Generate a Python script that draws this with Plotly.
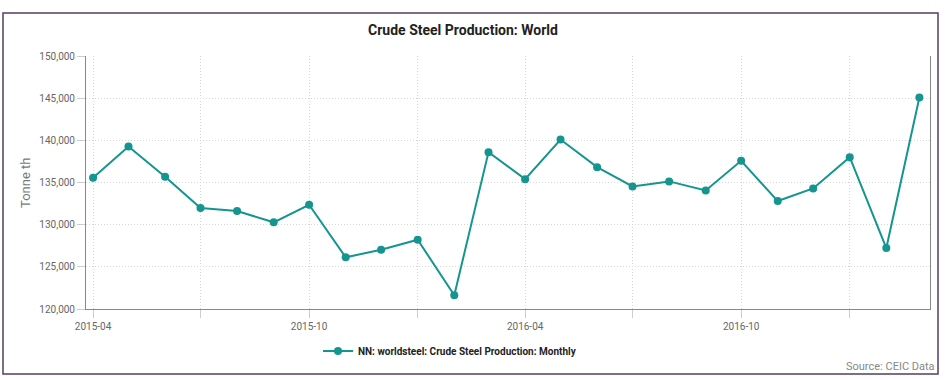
import plotly.graph_objects as go

months = ["2015-04", "2015-05", "2015-06", "2015-07", "2015-08", "2015-09",
          "2015-10", "2015-11", "2015-12", "2016-01", "2016-02", "2016-03",
          "2016-04", "2016-05", "2016-06", "2016-07", "2016-08", "2016-09",
          "2016-10", "2016-11", "2016-12", "2017-01", "2017-02", "2017-03"]
production = [135570, 139270, 135670, 131970, 131610, 130280,
              132360, 126130, 127030, 128210, 121630, 138600,
              135400, 140100, 136820, 134540, 135130, 134060,
              137570, 132800, 134300, 138000, 127230, 145080]

grid_months = ["2015-04-01", "2015-07-01", "2015-10-01", "2016-01-01",
               "2016-04-01", "2016-07-01", "2016-10-01", "2017-01-01"]
grid_labels = ["2015-04", "", "2015-10", "", "2016-04", "", "2016-10", ""]
y_ticks = [120000, 125000, 130000, 135000, 140000, 145000, 150000]

dates = [m + "-01" for m in months]
color = "#15958f"

fig = go.Figure()
fig.add_trace(go.Scatter(
    x=dates, y=production, mode="lines+markers",
    name="<b>NN: worldsteel: Crude Steel Production: Monthly</b>",
    line=dict(color=color, width=2),
    marker=dict(color=color, size=8),
))

W, H = 947, 380
L, R, T, B = 86, 17, 56, 71
pw, ph = W - L - R, H - T - B

def px(x):
    return (x - L) / pw

def py(y):
    return (H - B - y) / ph

fig.update_layout(
    width=W, height=H,
    margin=dict(l=L, r=R, t=T, b=B),
    paper_bgcolor="white", plot_bgcolor="white",
    font=dict(family="Roboto", size=10, color="#666"),
    title=dict(text="<b>Crude Steel Production: World</b>", x=463 / W, xanchor="center",
               y=1 - 30 / H, yanchor="middle",
               font=dict(family="Roboto", size=14, color="#222")),
    showlegend=True,
    legend=dict(orientation="h", x=px(318), xanchor="left", y=py(351), yanchor="middle",
                font=dict(family="Roboto", size=10, color="#222"),
                bgcolor="rgba(0,0,0,0)", itemwidth=30),
    xaxis=dict(type="date", range=["2015-03-26", "2017-03-10"],
               tickvals=grid_months, ticktext=grid_labels,
               showgrid=True, gridcolor="#d6d6d6", griddash="1px,2px", gridwidth=1,
               showline=True, linecolor="#888", linewidth=1,
               ticks="outside", ticklen=8, tickcolor="#ccc",
               tickfont=dict(size=10, color="#666"), zeroline=False),
    yaxis=dict(range=[120000, 150000], tickvals=y_ticks, tickformat=",d",
               showgrid=True, gridcolor="#d6d6d6", griddash="1px,2px", gridwidth=1,
               showline=True, linecolor="#888", linewidth=1, mirror=True,
               ticks="outside", ticklen=8, tickcolor="#ccc",
               tickfont=dict(size=10, color="#666"), zeroline=False),
    shapes=[dict(type="rect", xref="paper", yref="paper",
                 x0=px(3), x1=px(938), y0=py(374), y1=py(13),
                 line=dict(color="#5a3a66", width=1.5), fillcolor="rgba(0,0,0,0)",
                 layer="below")],
    annotations=[
        dict(text="Tonne th", xref="paper", yref="paper", x=px(25), y=py(183),
             textangle=-90, showarrow=False, xanchor="center", yanchor="middle",
             font=dict(family="Roboto", size=13, color="#777")),
        dict(text="Source: CEIC Data", xref="paper", yref="paper", x=px(937), y=py(366),
             showarrow=False, xanchor="right", yanchor="middle",
             font=dict(family="Roboto", size=11, color="#888")),
    ],
)

fig.write_html("out.html", config={"displayModeBar": False},
               post_script="document.body.style.margin='0px';")
